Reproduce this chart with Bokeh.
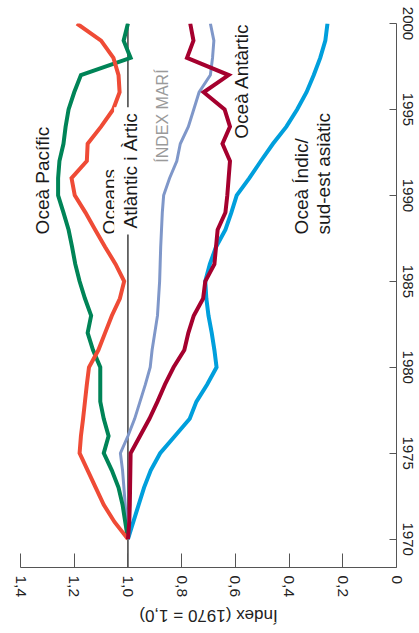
import math
from bokeh.plotting import figure
from bokeh.layouts import column
from bokeh.models import Range1d, LinearAxis, FixedTicker, Span, Label, CustomJSTickFormatter
from bokeh.embed import file_html
from bokeh.resources import INLINE
from bokeh.core.properties import value

years = list(range(1970, 2001))

pacific = [1.00, 1.01, 1.02, 1.035, 1.06, 1.09, 1.072, 1.09, 1.103, 1.103,
           1.103, 1.13, 1.15, 1.137, 1.16, 1.18, 1.196, 1.208, 1.221, 1.24,
           1.26, 1.26, 1.255, 1.24, 1.232, 1.221, 1.20, 1.175, 0.99, 1.016, 1.00]

atlantic_arctic = [1.00, 1.05, 1.09, 1.12, 1.15, 1.18, 1.175, 1.167, 1.16, 1.153,
                   1.145, 1.11, 1.085, 1.06, 1.03, 1.014, 1.046, 1.085, 1.122, 1.158,
                   1.198, 1.21, 1.153, 1.15, 1.10, 1.055, 1.031, 1.035, 1.054, 1.10, 1.19]

antarctic = [1.00, 0.995, 0.993, 0.992, 0.991, 0.99, 0.955, 0.92, 0.89, 0.862,
             0.83, 0.79, 0.775, 0.755, 0.72, 0.712, 0.678, 0.672, 0.666, 0.637,
             0.63, 0.625, 0.62, 0.648, 0.62, 0.64, 0.718, 0.625, 0.78, 0.756, 0.768]

indian_se_asia = [1.00, 0.98, 0.96, 0.94, 0.915, 0.88, 0.825, 0.77, 0.745, 0.705,
                  0.67, 0.678, 0.688, 0.70, 0.708, 0.712, 0.695, 0.672, 0.637, 0.615,
                  0.595, 0.548, 0.505, 0.46, 0.41, 0.37, 0.335, 0.308, 0.284, 0.265, 0.257]

marine_index = [1.00, 1.005, 1.01, 1.015, 1.02, 1.028, 1.0, 0.975, 0.955, 0.935,
                0.917, 0.91, 0.90, 0.89, 0.886, 0.882, 0.88, 0.878, 0.875, 0.872,
                0.867, 0.845, 0.818, 0.805, 0.775, 0.755, 0.735, 0.693, 0.685, 0.68, 0.693]

index_ticks = [1.4, 1.2, 1.0, 0.8, 0.6, 0.4, 0.2, 0.0]
year_ticks = [1970, 1975, 1980, 1985, 1990, 1995, 2000]
axis_title = "Índex (1970 = 1,0)"

FONT = "Liberation Sans"
W = 419

p = figure(width=W, height=600,
           x_range=Range1d(1.4, 0.0), y_range=Range1d(1968.35, 2000.0),
           output_backend="svg", toolbar_location=None,
           x_axis_location=None, y_axis_location=None,
           min_border_left=20, min_border_top=23,
           min_border_right=23, min_border_bottom=31)
p.outline_line_color = None
p.grid.visible = False
p.background_fill_color = "white"

xaxis = LinearAxis(ticker=FixedTicker(ticks=index_ticks),
                   formatter=CustomJSTickFormatter(code="return tick == 0 ? '0' : tick.toFixed(1).replace('.', ',');"))
xaxis.major_tick_in = 14
xaxis.major_tick_out = 0
xaxis.minor_tick_line_color = None
xaxis.axis_line_color = "#555555"
xaxis.major_tick_line_color = "#555555"
xaxis.major_label_orientation = "vertical"
xaxis.major_label_standoff = 8
xaxis.major_label_text_font = FONT
xaxis.major_label_text_font_size = "15.5px"
xaxis.major_label_text_color = "#222222"
p.add_layout(xaxis, "below")

yaxis = LinearAxis(ticker=FixedTicker(ticks=year_ticks))
yaxis.major_tick_in = 7
yaxis.major_tick_out = 0
yaxis.minor_tick_line_color = None
yaxis.axis_line_color = "#555555"
yaxis.major_tick_line_color = "#555555"
yaxis.major_label_orientation = "vertical"
yaxis.major_label_standoff = 6
yaxis.major_label_text_font = FONT
yaxis.major_label_text_font_size = "15px"
yaxis.major_label_text_color = "#222222"
p.add_layout(yaxis, "right")

p.add_layout(Span(location=1.0, dimension="height", line_color="#222222",
                  line_width=1.3, level="underlay"))

p.line(marine_index, years, line_color="#7f97c9", line_width=3, line_join="miter")
p.line(indian_se_asia, years, line_color="#009fdc", line_width=4, line_join="miter")
p.line(pacific, years, line_color="#008457", line_width=4, line_join="miter")
p.line(atlantic_arctic, years, line_color="#ef4b36", line_width=4, line_join="miter")
p.line(antarctic, years, line_color="#a5002e", line_width=4, line_join="miter")

def lab(x, y, text, color="#1a1a1a", size="19px", bg=None):
    kw = dict(x=x, y=y, text=text, angle=math.pi / 2, text_align="left",
              text_baseline="middle", text_font=FONT, text_font_size=size,
              text_color=color)
    if bg:
        kw.update(background_fill_color=bg, padding=6)
    p.add_layout(Label(**kw))

lab(1.317, 1987.73, "Oceà Pacífic")
lab(1.068, 1987.73, "Oceans")
lab(0.990, 1987.73, "Atlàntic i Àrtic", bg="white")
lab(0.870, 1991.9, "ÍNDEX MARÍ", color="#9a9a9a", size="16px")
lab(0.578, 1993.3, "Oceà Antàrtic")
lab(0.353, 1987.73, "Oceà Índic/")
lab(0.271, 1987.73, "sud-est asiàtic")

# strip below the chart carrying the upside-down axis title
t = figure(width=W, height=33,
           x_range=Range1d(1.4, 0.0), y_range=Range1d(0, 33),
           output_backend="svg", toolbar_location=None,
           x_axis_location=None, y_axis_location=None,
           min_border_left=20, min_border_right=23,
           min_border_top=0, min_border_bottom=0)
t.outline_line_color = None
t.grid.visible = False
t.text(x=[0.7], y=[18], text=[axis_title], angle=math.pi,
       text_align="center", text_baseline="middle",
       text_font=value(FONT), text_font_size="17px", text_color="#222222")

layout = column(p, t, spacing=0)
open("out.html", "w").write(file_html(layout, INLINE))
